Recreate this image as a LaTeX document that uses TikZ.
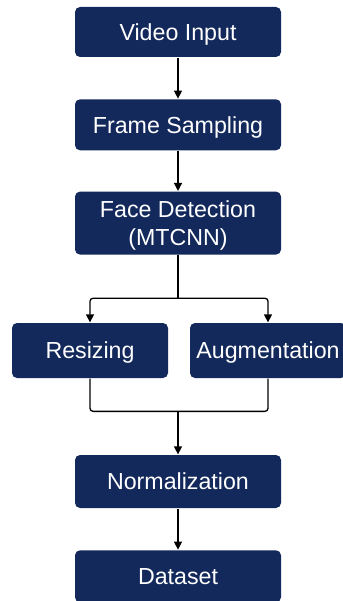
\documentclass[tikz,border=0pt]{standalone}
\usepackage{fontspec}
\setmainfont{Liberation Sans}
\usetikzlibrary{positioning,arrows.meta,calc}
\definecolor{navy}{RGB}{19,41,91}

\begin{document}
\begin{tikzpicture}[x=1pt,y=1pt,
    box/.style={rectangle, rounded corners=5pt, fill=navy, text=white,
      minimum width=206pt, align=center, inner sep=2pt, text depth=0pt,
      font=\fontsize{23.2}{28}\selectfont},
    half/.style={box, minimum width=156pt},
    line width=1.3pt, >={Triangle[length=8pt,width=8pt]}]
   \useasboundingbox (0,0) rectangle (342,-601);
   \node[box, minimum height=50pt] (vi) at (178,-32) {Video Input};
   \node[box, minimum height=51pt] (fs) [below=41pt of vi] {Frame Sampling};
   \node[box, minimum height=63pt] (fd) [below=40pt of fs] {Face Detection\\(MTCNN)};
   \node[half, minimum height=55pt] (rs) at (90,-350.5) {Resizing};
   \node[half, minimum height=55pt] (au) at (268,-350.5) {Augmentation};
   \node[box, minimum height=53pt] (nm) at (178,-481.5) {Normalization};
   \node[box, minimum height=52pt] (ds) [below=41pt of nm] {Dataset};
   % main flow
   \draw[->] (vi) -- (fs);
   \draw[->] (fs) -- (fd);
   % split and merge
   \draw (fd.south) -- ++(0,-43) coordinate (split);
   \draw[->, rounded corners=3pt] (split) -| (rs.north);
   \draw[->, rounded corners=3pt] (split) -| (au.north);
   \coordinate (join) at ($(nm.north)+(0,43)$);
   \draw[rounded corners=3pt] (rs.south) |- (join) -| (au.south);
   \draw[->] (join) -- (nm);
   \draw[->] (nm) -- (ds);
\end{tikzpicture}
\end{document}
